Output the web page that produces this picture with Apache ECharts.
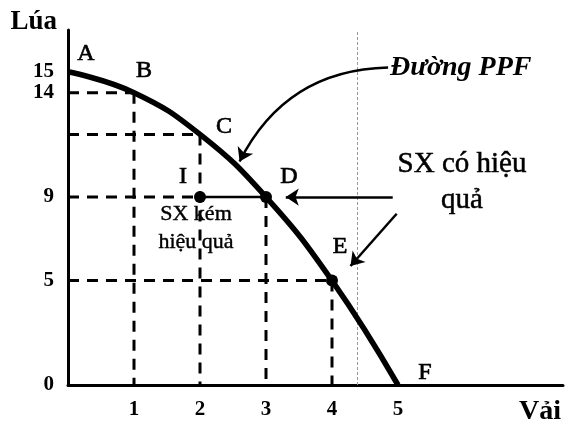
<!DOCTYPE html>
<html>
<head>
<meta charset="utf-8">
<title>Đường PPF</title>
<script src="https://cdn.jsdelivr.net/npm/echarts@6/dist/echarts.min.js"></script>
<style>
  html, body { margin: 0; padding: 0; background: #fff; }
  #chart { width: 569px; height: 430px; }
</style>
</head>
<body>
<div id="chart"></div>
<script>
// các điểm trên đường giới hạn khả năng sản xuất
const pointNames = ["A", "B", "C", "D", "E", "F"];
const vaiValues = [0, 1, 2, 3, 4, 5];
const luaValues = [15, 14, 12, 9, 5, 0];

// điểm I: sản xuất kém hiệu quả
const pointI = [2, 9];

const xTicks = [1, 2, 3, 4, 5];
const yTicks = [0, 5, 9, 14, 15];

const serif = "Liberation Serif";

// vị trí nhãn chữ cạnh mỗi điểm (px)
const labelOffsets = {
  A: [18, -18],
  B: [10, -22],
  C: [24, -8],
  D: [23, -20],
  E: [8, -34],
  F: [27, -12],
};

const chartInstance = echarts.init(document.getElementById("chart"));

const dashStyle = { color: "#000", width: 3, type: [11, 8] };

const pointLabel = {
  color: "#000",
  fontFamily: serif,
  fontSize: 24,
  textBorderColor: "#000",
  textBorderWidth: 0.7,
};

// đường gióng nét đứt từ B, C, D, E về hai trục
const guideSeries = [];
for (let i = 1; i < 5; i++) {
  const x = vaiValues[i];
  const y = luaValues[i];
  const hEnd = pointI[1] === y ? pointI[0] : x;
  guideSeries.push({
    type: "line",
    data: [[0, y], [hEnd, y]],
    symbol: "none",
    silent: true,
    lineStyle: dashStyle,
    z: 2,
  });
  guideSeries.push({
    type: "line",
    data: [[x, y], [x, 0]],
    symbol: "none",
    silent: true,
    lineStyle: dashStyle,
    z: 2,
  });
}

const option = {
  animation: false,
  backgroundColor: "#fff",
  grid: { left: 68, right: 6, top: 30, bottom: 45 },
  xAxis: {
    type: "value",
    min: 0,
    max: 7.5,
    name: "Vải",
    nameLocation: "end",
    nameGap: 0,
    nameTextStyle: {
      color: "#000",
      fontFamily: serif,
      fontWeight: "bold",
      fontSize: 28,
      align: "right",
      verticalAlign: "top",
      padding: [13, 2, 0, 0],
    },
    axisLine: { show: true, lineStyle: { color: "#000", width: 3 } },
    axisTick: { show: false },
    splitLine: { show: false },
    axisLabel: {
      customValues: xTicks,
      color: "#000",
      fontFamily: serif,
      fontWeight: "bold",
      fontSize: 21,
      margin: 14,
    },
  },
  yAxis: {
    type: "value",
    min: 0,
    max: 17,
    name: "Lúa",
    nameLocation: "end",
    nameGap: -6,
    nameTextStyle: {
      color: "#000",
      fontFamily: serif,
      fontWeight: "bold",
      fontSize: 27,
      align: "right",
      padding: [0, 11, 0, 0],
    },
    axisLine: { show: true, lineStyle: { color: "#000", width: 3 } },
    axisTick: { show: false },
    splitLine: { show: false },
    axisLabel: {
      customValues: yTicks,
      color: "#000",
      fontFamily: serif,
      fontWeight: "bold",
      fontSize: 21,
      margin: 14,
    },
  },
  series: [
    ...guideSeries,
    {
      name: "I-D",
      type: "line",
      data: [pointI, [vaiValues[3], luaValues[3]]],
      symbol: "none",
      silent: true,
      lineStyle: { color: "#000", width: 2.5 },
      z: 3,
    },
    {
      name: "PPF",
      type: "line",
      data: vaiValues.map((v, i) => [v, luaValues[i]]),
      smooth: 0.45,
      symbol: "none",
      silent: true,
      lineStyle: { color: "#000", width: 5.5 },
      z: 5,
      markLine: {
        silent: true,
        symbol: "none",
        label: { show: false },
        lineStyle: { color: "#999", width: 1, type: [3, 2] },
        data: [{ xAxis: 4.38 }],
      },
    },
    {
      name: "nhãn",
      type: "scatter",
      symbolSize: 0,
      silent: true,
      itemStyle: { opacity: 1 },
      data: pointNames.map((n, i) => ({
        value: [vaiValues[i], luaValues[i]],
        label: { offset: labelOffsets[n] },
      })),
      label: {
        show: true,
        position: "inside",
        formatter: (p) => pointNames[p.dataIndex],
        ...pointLabel,
      },
      z: 6,
    },
    {
      name: "điểm",
      type: "scatter",
      symbol: "circle",
      symbolSize: 12,
      silent: true,
      itemStyle: { color: "#000", opacity: 1 },
      data: [
        { value: pointI, label: { show: true, formatter: "I", offset: [-17, -20] } },
        [vaiValues[3], luaValues[3]],
        [vaiValues[4], luaValues[4]],
      ],
      label: {
        position: "inside",
        ...pointLabel,
      },
      z: 7,
    },
    {
      name: "mũi tên",
      type: "lines",
      coordinateSystem: "cartesian2d",
      silent: true,
      symbol: ["none", "arrow"],
      symbolSize: 13,
      lineStyle: { color: "#000", width: 2.5, opacity: 1 },
      data: [
        { coords: [[4.85, 15.2], [2.6, 10.7]], lineStyle: { curveness: -0.3 } },
        { coords: [[4.92, 9], [3.3, 9]] },
        { coords: [[4.98, 8.2], [4.28, 5.7]] },
      ],
      z: 8,
    },
  ],
  graphic: [
    {
      type: "text",
      x: 390,
      y: 54,
      style: {
        text: "Đường PPF",
        font: 'italic bold 28px "Liberation Serif"',
        fill: "#000",
      },
    },
    {
      type: "text",
      x: 462,
      y: 146,
      style: {
        text: "SX có hiệu\nquả",
        font: '29px "Liberation Serif"',
        lineHeight: 36,
        align: "center",
        fill: "#000",
        stroke: "#000",
        lineWidth: 0.5,
      },
    },
    {
      type: "text",
      x: 196,
      y: 200,
      style: {
        text: "SX kém\nhiệu quả",
        font: '22px "Liberation Serif"',
        lineHeight: 28,
        align: "center",
        fill: "#000",
        stroke: "#000",
        lineWidth: 0.4,
      },
    },
  ],
};

chartInstance.setOption(option);
</script>
</body>
</html>
